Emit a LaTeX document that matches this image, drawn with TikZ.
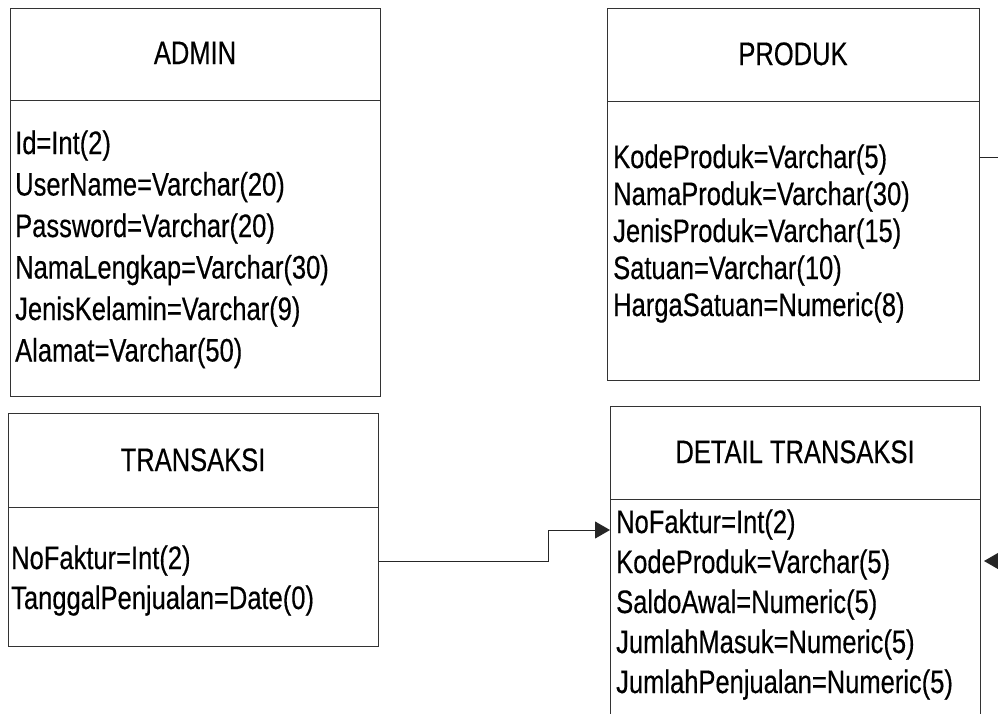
\documentclass[tikz,border=0pt]{standalone}
\usepackage{fontspec}
\setmainfont{Liberation Sans}[FakeStretch=0.785,FakeBold=0.4]
\usetikzlibrary{arrows.meta}
\begin{document}
\begin{tikzpicture}[x=1pt,y=-1pt,
  box/.style={draw=black!80, line width=1pt, inner sep=0pt, anchor=north west},
  sep/.style={draw=black!80, line width=1pt},
  title/.style={font=\fontsize{32.5}{38}\selectfont, anchor=base, inner sep=0pt},
  attr/.style={font=\fontsize{32.5}{38}\selectfont, anchor=base west, inner sep=0pt},
  link/.style={draw=black!85, line width=1pt},
  tip/.style={-{Triangle[length=15pt,width=17pt]}}]
\useasboundingbox (0,0) rectangle (998,713);
\clip (0,0) rectangle (998,713);

% entity frames
\node[box, minimum width=370pt, minimum height=388pt] (abox) at (10,8) {};
\node[box, minimum width=372pt, minimum height=372pt] (pbox) at (607,8) {};
\node[box, minimum width=370pt, minimum height=233pt] (tbox) at (8,413) {};
\node[box, minimum width=370pt, minimum height=330pt] (dbox) at (610,406) {};

% header separators
\draw[sep] (10,100) -- (380,100);
\draw[sep] (607,101) -- (979,101);
\draw[sep] (8,507) -- (378,507);
\draw[sep] (610,499) -- (980,499);

% titles
\node[title] (atitle) at (195,64) {ADMIN};
\node[title] (ptitle) at (793,65) {PRODUK};
\node[title] (ttitle) at (193,471) {TRANSAKSI};
\node[title] (dtitle) at (795,463) {DETAIL TRANSAKSI};

% ADMIN attributes
\node[attr] (aid)     at (15,154) {Id=Int(2)};
\node[attr] (auser)   at (15,195.5) {UserName=Varchar(20)};
\node[attr] (apass)   at (15,237) {Password=Varchar(20)};
\node[attr] (anama)   at (15,278.5) {NamaLengkap=Varchar(30)};
\node[attr] (ajenis)  at (15,320) {JenisKelamin=Varchar(9)};
\node[attr] (aalamat) at (15,361.5) {Alamat=Varchar(50)};

% PRODUK attributes
\node[attr] (pkode)  at (613,168) {KodeProduk=Varchar(5)};
\node[attr] (pnama)  at (613,205) {NamaProduk=Varchar(30)};
\node[attr] (pjenis) at (613,242) {JenisProduk=Varchar(15)};
\node[attr] (psat)   at (613,279) {Satuan=Varchar(10)};
\node[attr] (pharga) at (613,316) {HargaSatuan=Numeric(8)};

% TRANSAKSI attributes
\node[attr] (tfaktur) at (11,569) {NoFaktur=Int(2)};
\node[attr] (ttgl)    at (11,609) {TanggalPenjualan=Date(0)};

% DETAIL TRANSAKSI attributes
\node[attr] (dfaktur) at (616,533) {NoFaktur=Int(2)};
\node[attr] (dkode)   at (616,573) {KodeProduk=Varchar(5)};
\node[attr] (dsaldo)  at (616,613) {SaldoAwal=Numeric(5)};
\node[attr] (dmasuk)  at (616,653) {JumlahMasuk=Numeric(5)};
\node[attr] (djual)   at (616,693) {JumlahPenjualan=Numeric(5)};

% relations
\coordinate (pout) at (1010,157);
\coordinate (dout) at (1010,561);
\draw[link,tip] (tbox.east |- 0,561) -- ++(169,0) |- ([yshift=3pt]dbox.west |- dfaktur.base);
\draw[link] (pbox.east |- pout) -- (pout);
\draw[link,tip] (dout) -- ([xshift=3pt]dbox.east |- dout);
\end{tikzpicture}
\end{document}
